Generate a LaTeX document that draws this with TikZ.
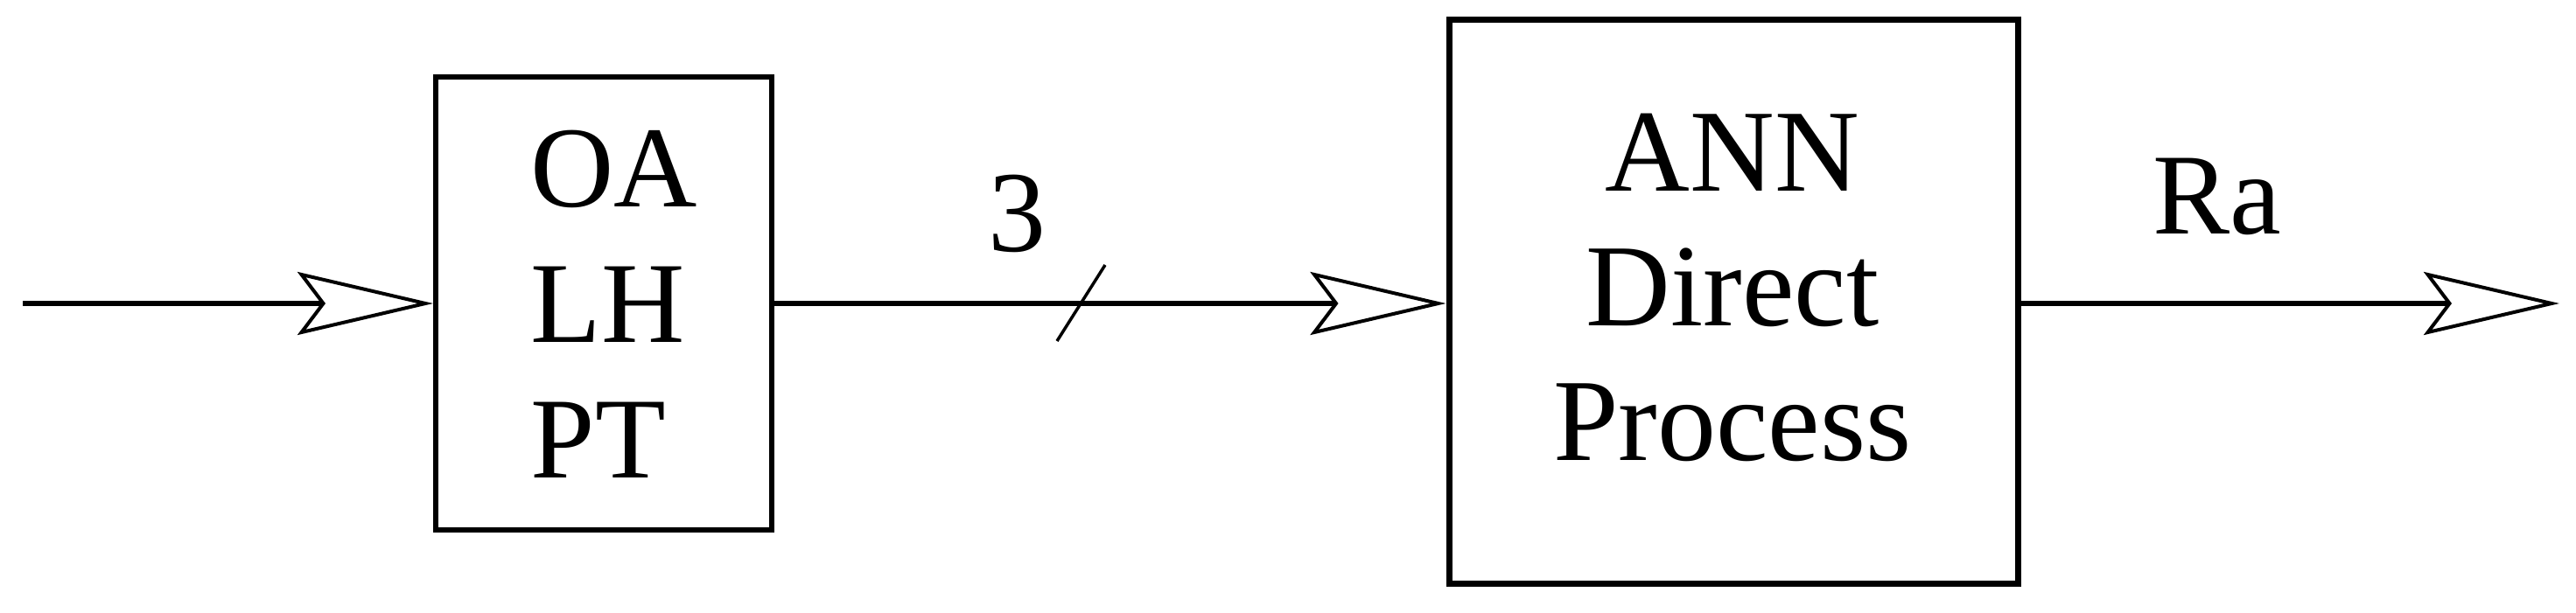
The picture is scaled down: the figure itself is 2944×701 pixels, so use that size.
\documentclass[tikz,border=0pt]{standalone}
\usepackage{fontspec}
\setmainfont{Liberation Serif}
\usetikzlibrary{arrows.meta}
\begin{document}
\begin{tikzpicture}[x=1pt,y=-1pt,
  blockbox/.style={draw=black, line width=6pt, minimum width=#1, inner sep=0pt},
  bigtext/.style={font=\fontsize{132}{155}\selectfont, inner sep=0pt},
  conn/.style={line width=6pt, -{Stealth[open, length=155pt, width=72pt, inset=27pt, line width=4pt]}},
  slashline/.style={line width=3.5pt}
]
\useasboundingbox (0,0) rectangle (2944,701);
\node[blockbox=384pt, minimum height=518pt] (oa) at (690,347) {};
\node[bigtext, align=left] (oatext) at (702,348) {OA\\LH\\PT};
\node[blockbox=650pt, minimum height=645pt, line width=7pt] (ann) at (1981,345) {};
\node[bigtext, align=center, font=\fontsize{134}{154}\selectfont] (anntext) at (1980,329) {ANN\\Direct\\Process};
\coordinate (in) at (26,347);
\coordinate (out) at (2925,347);
\draw[conn] (in) -- (in -| oa.west);
\draw[conn] (oa.east |- in) -- (in -| ann.west);
\draw[conn] (ann.east |- out) -- (out);
\coordinate (s1) at (1208,390);
\coordinate (s2) at (1263,303);
\draw[slashline] (s1) -- (s2);
\node[bigtext, anchor=base] (three) at (1162,287) {3};
\node[bigtext, anchor=base] (ra) at (2534,267) {Ra};
\end{tikzpicture}
\end{document}
